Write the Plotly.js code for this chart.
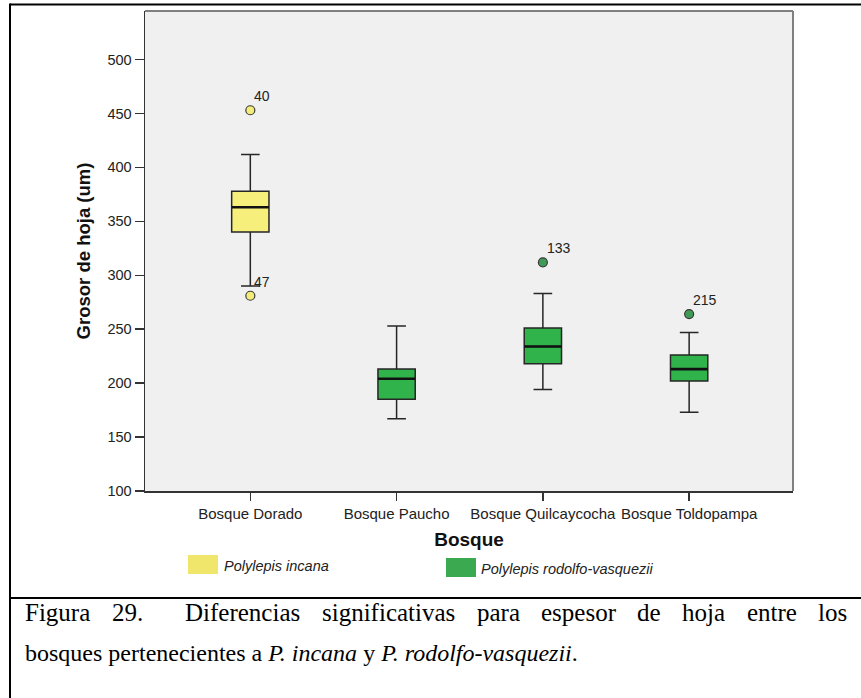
<!DOCTYPE html>
<html>
<head>
<meta charset="utf-8">
<script src="https://cdn.plot.ly/plotly-3.0.1.min.js"></script>
<style>
  html, body { margin: 0; padding: 0; background: #ffffff; }
  #chart { width: 861px; height: 698px; }
</style>
</head>
<body>
<div id="chart"></div>
<script>
// ---- Data ----
const categories = ['Bosque Dorado', 'Bosque Paucho', 'Bosque Quilcaycocha', 'Bosque Toldopampa'];
const q1Values = [340, 185, 218, 202];
const medianValues = [363, 204, 234, 213];
const q3Values = [378, 213, 251, 226];
const lowerWhisker = [290, 167, 194, 173];
const upperWhisker = [412, 253, 283, 247];
const speciesOfBosque = ['Polylepis incana', 'Polylepis rodolfo-vasquezii', 'Polylepis rodolfo-vasquezii', 'Polylepis rodolfo-vasquezii'];

const outlierBosque = ['Bosque Dorado', 'Bosque Dorado', 'Bosque Quilcaycocha', 'Bosque Toldopampa'];
const outlierValues = [453, 281, 312, 264];
const outlierLabels = ['40', '47', '133', '215'];

const yTickValues = [100, 150, 200, 250, 300, 350, 400, 450, 500];
const speciesNames = ['Polylepis incana', 'Polylepis rodolfo-vasquezii'];

const captionLine1 = ['Figura', '29.', 'Diferencias', 'significativas', 'para', 'espesor', 'de', 'hoja', 'entre', 'los'];
const captionLine2 = 'bosques pertenecientes a <i>P. incana</i> y <i>P. rodolfo-vasquezii</i>.';

// ---- Styles ----
const speciesStyle = {
  'Polylepis incana': { box: '#f6ef7c', legend: '#f0e66c', point: '#f3ec78' },
  'Polylepis rodolfo-vasquezii': { box: '#30b34b', legend: '#3aa94f', point: '#3f9b56' }
};
const W = 861, H = 698;
const M = { l: 145, r: 68, t: 11, b: 207 };
const PW = W - M.l - M.r, PH = H - M.t - M.b;
const px = x => (x - M.l) / PW;
const py = y => (H - M.b - y) / PH;
const sans = 'Liberation Sans, Arial, sans-serif';
const serif = 'Liberation Serif, Times New Roman, serif';
const boxWidth = 0.255;

// ---- Traces ----
const traces = [];
speciesNames.forEach(sp => {
  const idx = categories.map((c, i) => i).filter(i => speciesOfBosque[i] === sp);
  traces.push({
    type: 'box',
    name: sp,
    x: idx.map(i => categories[i]),
    q1: idx.map(i => q1Values[i]),
    median: idx.map(i => medianValues[i]),
    q3: idx.map(i => q3Values[i]),
    lowerfence: idx.map(i => lowerWhisker[i]),
    upperfence: idx.map(i => upperWhisker[i]),
    width: boxWidth,
    whiskerwidth: 0.5,
    fillcolor: speciesStyle[sp].box,
    line: { color: '#262626', width: 1.5 },
    boxpoints: false,
    hoverinfo: 'skip',
    showlegend: false
  });
  const oi = outlierBosque.map((c, i) => i).filter(i => speciesOfBosque[categories.indexOf(outlierBosque[i])] === sp);
  traces.push({
    type: 'scatter',
    mode: 'markers',
    x: oi.map(i => outlierBosque[i]),
    y: oi.map(i => outlierValues[i]),
    marker: { size: 9, color: speciesStyle[sp].point, line: { color: '#3a3a3a', width: 1.2 } },
    hoverinfo: 'skip',
    showlegend: false,
    cliponaxis: false
  });
});

// ---- Shapes ----
const shapes = [];
const frame = { color: '#000000', width: 2 };
shapes.push({ type: 'line', xref: 'paper', yref: 'paper', x0: px(10), x1: px(10), y0: py(3.5), y1: py(H + 2), line: frame });
shapes.push({ type: 'line', xref: 'paper', yref: 'paper', x0: px(10), x1: px(W + 2), y0: py(4.5), y1: py(4.5), line: frame });
shapes.push({ type: 'line', xref: 'paper', yref: 'paper', x0: px(10), x1: px(W + 2), y0: py(598), y1: py(598), line: frame });
// plot frame top & right (gray)
shapes.push({ type: 'line', xref: 'paper', yref: 'paper', x0: 0, x1: 1, y0: 1, y1: 1, line: { color: '#808080', width: 2 } });
shapes.push({ type: 'line', xref: 'paper', yref: 'paper', x0: 1, x1: 1, y0: 0, y1: 1, line: { color: '#808080', width: 2 } });
// thicker medians
categories.forEach((c, i) => {
  shapes.push({ type: 'line', xref: 'x', yref: 'y', x0: i - boxWidth / 2, x1: i + boxWidth / 2,
    y0: medianValues[i], y1: medianValues[i], line: { color: '#111111', width: 2.6 } });
});
// legend swatches
const legendPos = [
  { x0: 188, x1: 218, y0: 555, y1: 574, tx: 222, ty: 566 },
  { x0: 446, x1: 476, y0: 558, y1: 577, tx: 479, ty: 569 }
];
speciesNames.forEach((sp, k) => {
  const p = legendPos[k];
  shapes.push({ type: 'rect', xref: 'paper', yref: 'paper', x0: px(p.x0), x1: px(p.x1), y0: py(p.y1), y1: py(p.y0),
    fillcolor: speciesStyle[sp].legend, line: { width: 0 } });
});

// ---- Annotations ----
const annotations = [];
outlierLabels.forEach((lab, i) => {
  annotations.push({ xref: 'x', yref: 'y', x: outlierBosque[i], y: outlierValues[i], text: lab, showarrow: false,
    xanchor: 'left', yanchor: 'middle', xshift: 2, yshift: 14, font: { family: sans, size: 14, color: '#222222' } });
});
speciesNames.forEach((sp, k) => {
  const p = legendPos[k];
  annotations.push({ xref: 'paper', yref: 'paper', x: px(p.tx), y: py(p.ty), text: '<i>' + sp + '</i>', showarrow: false,
    xanchor: 'left', yanchor: 'middle', font: { family: sans, size: 14.5, color: '#222222' } });
});

// Caption line 1 justified between x=25 and x=847
const capSize1 = 25, capSize2 = 24;
const cv = document.createElement('canvas').getContext('2d');
cv.font = capSize1 + 'px "Liberation Serif"';
const wordW = captionLine1.map(w => cv.measureText(w).width);
const gapWeights = captionLine1.slice(0, -1).map(w => (w === '29.' ? 2 : 1));
const totalWeight = gapWeights.reduce((a, b) => a + b, 0);
const unit = (847 - 25 - wordW.reduce((a, b) => a + b, 0)) / totalWeight;
let cx = 25;
captionLine1.forEach((w, i) => {
  annotations.push({ xref: 'paper', yref: 'paper', x: px(cx - 1), y: py(612), text: w, showarrow: false,
    xanchor: 'left', yanchor: 'middle', borderpad: 0, font: { family: serif, size: capSize1, color: '#000000' } });
  cx += wordW[i] + (i < gapWeights.length ? gapWeights[i] * unit : 0);
});
annotations.push({ xref: 'paper', yref: 'paper', x: px(24), y: py(653), text: captionLine2, showarrow: false,
  xanchor: 'left', yanchor: 'middle', borderpad: 0, font: { family: serif, size: capSize2, color: '#000000' } });

// ---- Layout ----
const layout = {
  width: W, height: H,
  margin: M,
  paper_bgcolor: '#ffffff',
  plot_bgcolor: '#f0f0f0',
  showlegend: false,
  boxmode: 'overlay',
  xaxis: {
    type: 'category',
    categoryorder: 'array', categoryarray: categories,
    range: [-0.72, 3.71],
    showgrid: false, zeroline: false,
    showline: true, linecolor: '#333333', linewidth: 1.5,
    ticks: 'outside', ticklen: 8, tickwidth: 1.5, tickcolor: '#333333',
    tickfont: { family: sans, size: 15, color: '#222222' },
    title: { text: 'Bosque', font: { family: sans, size: 19, color: '#111111', weight: 'bold' }, standoff: 12 },
    automargin: false, fixedrange: true
  },
  yaxis: {
    range: [100, 545],
    tickvals: yTickValues,
    ticktext: yTickValues.map(String),
    showgrid: false, zeroline: false,
    showline: true, linecolor: '#333333', linewidth: 1.5,
    ticks: 'outside', ticklen: 9, tickwidth: 1.5, tickcolor: '#333333',
    tickfont: { family: sans, size: 14.5, color: '#222222' },
    title: { text: 'Grosor de hoja (um)', font: { family: sans, size: 18.5, color: '#111111', weight: 'bold' }, standoff: 12 },
    automargin: false, fixedrange: true
  },
  shapes: shapes,
  annotations: annotations
};

Plotly.newPlot('chart', traces, layout, { staticPlot: true, displayModeBar: false });
</script>
</body>
</html>
